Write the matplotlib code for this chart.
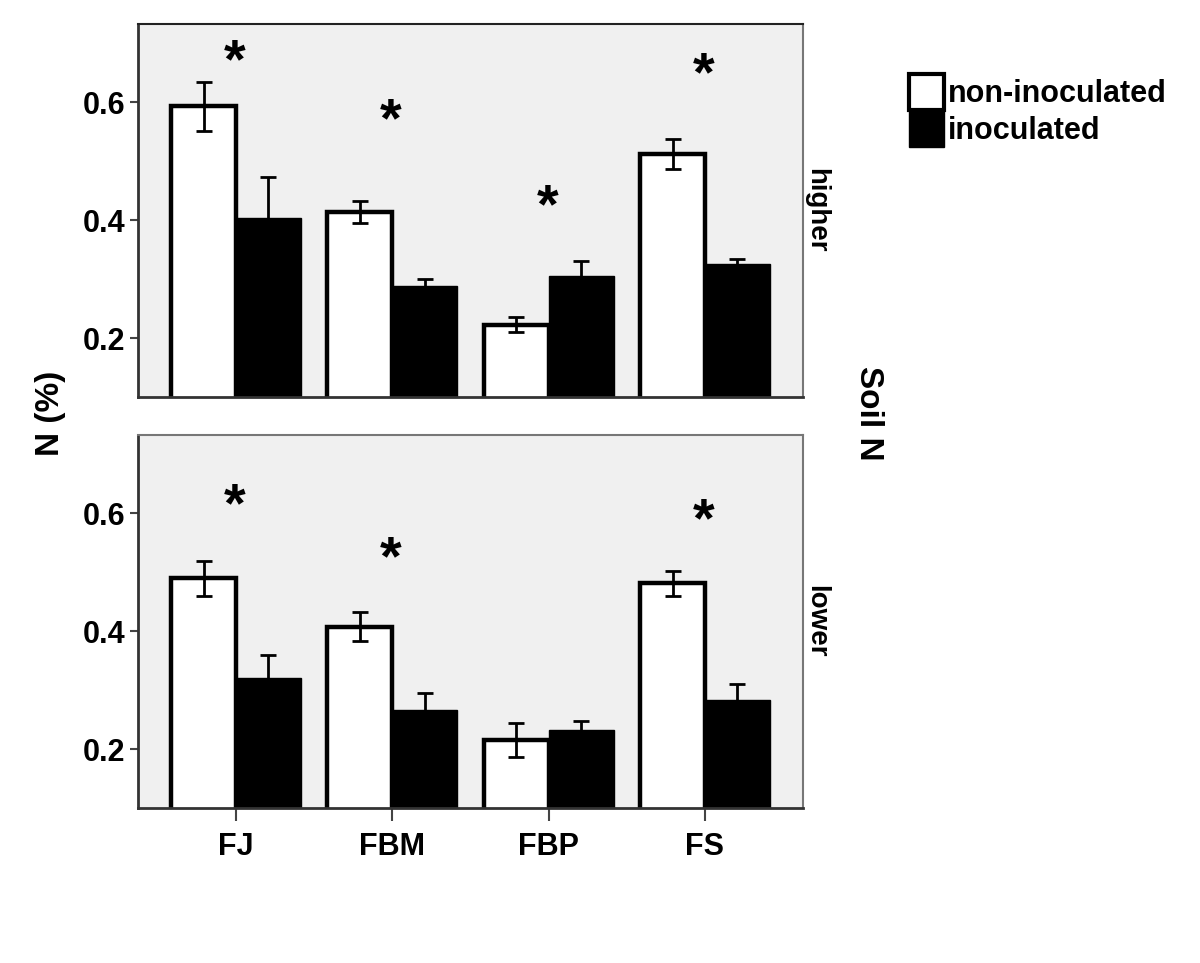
import numpy as np
import matplotlib
matplotlib.use("Agg")
import matplotlib.pyplot as plt
from matplotlib.patches import Patch

plt.rcParams["font.family"] = ["Liberation Sans", "DejaVu Sans"]
plt.rcParams["font.weight"] = "bold"

species = ["FJ", "FBM", "FBP", "FS"]
series = ["non-inoculated", "inoculated"]
soil_levels = ["higher", "lower"]

# mean N (%) and error half-widths, per soil level
higher_non = [0.593, 0.414, 0.223, 0.512]
higher_non_err = [0.042, 0.018, 0.012, 0.025]
higher_ino = [0.404, 0.289, 0.305, 0.325]
higher_ino_err = [0.070, 0.011, 0.026, 0.010]

lower_non = [0.490, 0.408, 0.215, 0.481]
lower_non_err = [0.030, 0.024, 0.029, 0.022]
lower_ino = [0.321, 0.267, 0.232, 0.284]
lower_ino_err = [0.039, 0.028, 0.015, 0.026]

# significance asterisks (height in data units, None = no star)
higher_star = [0.686, 0.585, 0.439, 0.664]
lower_star = [0.629, 0.539, None, 0.604]

panels = [
    (higher_non, higher_non_err, higher_ino, higher_ino_err, higher_star),
    (lower_non, lower_non_err, lower_ino, lower_ino_err, lower_star),
]

W, H = 1200, 963
fig = plt.figure(figsize=(W / 100, H / 100), dpi=100)

ax_rects = [
    [138 / W, 1 - 397 / H, 665 / W, 373 / H],
    [138 / W, 1 - 808 / H, 665 / W, 373 / H],
]

x = np.arange(len(species))
bw = 0.415

for i, (rect, (non, non_err, ino, ino_err, stars)) in enumerate(zip(ax_rects, panels)):
    ax = fig.add_axes(rect)
    ax.set_facecolor("#f0f0f0")
    ax.bar(x - bw / 2, non, bw, bottom=0, color="white", edgecolor="black",
           linewidth=3.2, zorder=2)
    ax.bar(x + bw / 2, ino, bw, color="black", edgecolor="black",
           linewidth=1, zorder=2)
    ax.errorbar(x - bw / 2, non, yerr=non_err, fmt="none", ecolor="black",
                elinewidth=2, capsize=6, capthick=2, zorder=3)
    ax.errorbar(x + bw / 2, ino, yerr=ino_err, fmt="none", ecolor="black",
                elinewidth=2, capsize=6, capthick=2, zorder=3)
    for xi, s in zip(x, stars):
        if s is not None:
            # asterisk glyph sits high in its box, nudge it down
            ax.annotate("*", (xi, s), xytext=(-1, -8), textcoords="offset points",
                        ha="center", va="center", fontsize=40,
                        fontweight="bold", zorder=4)

    ax.set_xlim(-0.627, 3.627)
    ax.set_ylim(0.1, 0.733)
    ax.set_yticks([0.2, 0.4, 0.6])
    ax.set_yticklabels(["0.2", "0.4", "0.6"])
    ax.tick_params(axis="y", length=6, width=1.5, color="#444444",
                   labelsize=22, pad=3)
    if i == 1:
        ax.set_xticks(x)
        ax.set_xticklabels(species)
        ax.tick_params(axis="x", length=9, width=1.5, color="#444444",
                       labelsize=22, pad=8)
    else:
        ax.set_xticks([])
    for side in ["left", "bottom"]:
        ax.spines[side].set_color("#333333")
        ax.spines[side].set_linewidth(2)
    for side in ["top", "right"]:
        ax.spines[side].set_color("#777777")
        ax.spines[side].set_linewidth(1.5)
    if i == 0:
        ax.spines["top"].set_color("#222222")
    ax.text(1.0, 0.5, soil_levels[i], transform=ax.transAxes, rotation=-90,
            ha="left", va="center", fontsize=20)

    for tl in ax.get_yticklabels() + ax.get_xticklabels():
        tl.set_fontweight("bold")

fig.text(50 / W, 1 - 413 / H, "N (%)", rotation=90, ha="center", va="center",
         fontsize=24, fontweight="bold")
fig.text(868 / W, 1 - 413 / H, "Soil N", rotation=-90, ha="center", va="center",
         fontsize=24, fontweight="bold")

handles = [
    Patch(facecolor="white", edgecolor="black", linewidth=3),
    Patch(facecolor="black", edgecolor="black", linewidth=1),
]
fig.legend(handles, series, loc="upper left",
           bbox_to_anchor=(909 / W, 1 - 74 / H), frameon=False,
           fontsize=22, handlelength=1.15, handleheight=1.45,
           handletextpad=0.12, labelspacing=0.0, borderpad=0,
           borderaxespad=0)

fig.savefig("out.png", dpi=100)
